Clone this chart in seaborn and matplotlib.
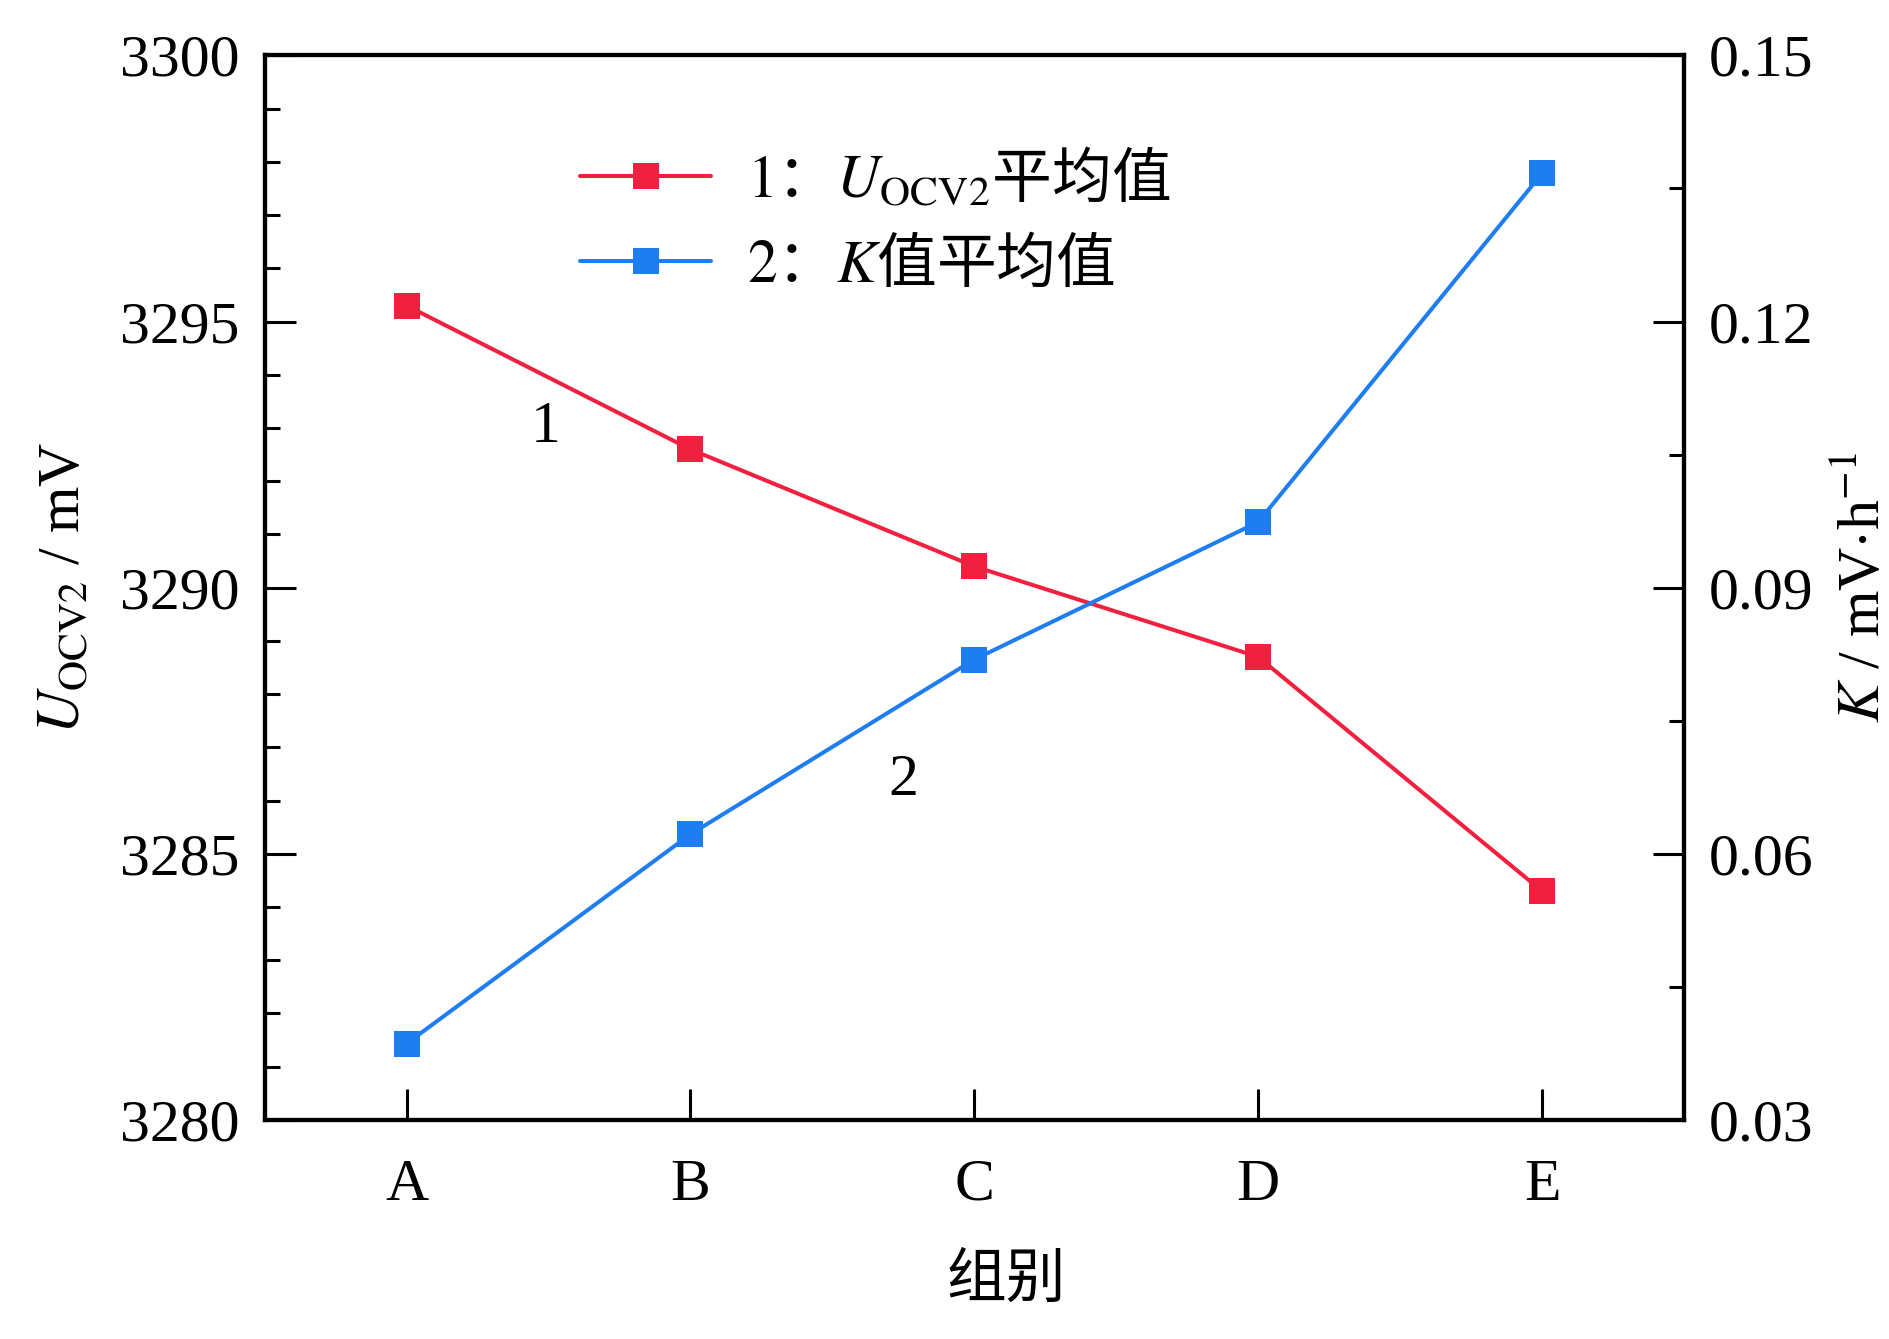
import matplotlib
matplotlib.use('Agg')
import matplotlib.pyplot as plt
import seaborn as sns
import pandas as pd
from matplotlib.ticker import MultipleLocator

# data
groups = ['A', 'B', 'C', 'D', 'E']
u_ocv2 = [3295.3, 3292.6, 3290.4, 3288.7, 3284.3]   # mV, left axis
k_val = [0.0386, 0.0622, 0.0819, 0.0974, 0.1367]    # mV/h, right axis

red = '#F2203F'
blue = '#1F7DF2'

sns.set_style('ticks')
plt.rcParams['font.family'] = ['Liberation Serif', 'Noto Sans CJK SC']
plt.rcParams['mathtext.fontset'] = 'stix'
plt.rcParams['axes.linewidth'] = 3
for key in ['text.color', 'axes.labelcolor', 'xtick.color', 'ytick.color',
            'axes.edgecolor']:
    plt.rcParams[key] = 'black'

df = pd.DataFrame({'group': groups, 'u': u_ocv2, 'k': k_val})

fig = plt.figure(figsize=(18.9, 13.39), dpi=100)
ax = fig.add_axes([0.140, 0.1636, 0.751, 0.795])
ax2 = ax.twinx()

sns.lineplot(data=df, x='group', y='u', ax=ax, color=red, linewidth=2.9,
             marker='s', markersize=19, markeredgewidth=0, label='1')
sns.lineplot(data=df, x='group', y='k', ax=ax2, color=blue, linewidth=2.9,
             marker='s', markersize=19, markeredgewidth=0, label='2')
ax.get_legend().remove() if ax.get_legend() else None
ax2.get_legend().remove() if ax2.get_legend() else None

fs = 43
ax.set_xlim(-0.5, 4.5)
ax.set_ylim(3280, 3300)
ax.yaxis.set_major_locator(MultipleLocator(5))
ax.yaxis.set_minor_locator(MultipleLocator(1))
ax2.set_ylim(0.03, 0.15)
ax2.yaxis.set_minor_locator(MultipleLocator(0.015))
ax2.set_yticks([0.03, 0.06, 0.09, 0.12, 0.15])
ax2.set_yticklabels(['0.03', '0.06', '0.09', '0.12', '0.15'])

for a in (ax, ax2):
    a.tick_params(which='major', direction='in', length=22, width=2.2,
                  labelsize=fs, pad=18, color='black')
    a.tick_params(which='minor', direction='in', length=11, width=2.2)
    for s in a.spines.values():
        s.set_linewidth(3)
        s.set_color('black')
ax.tick_params(axis='x', top=False, pad=28)
ax.tick_params(axis='y', right=False, which='both')
ax2.tick_params(axis='y', left=False, which='both')

ax.set_xlabel('组别', fontsize=fs, family='Noto Sans CJK SC')
ax.xaxis.set_label_coords(0.5225, -0.122)
ax.set_ylabel(r'$U_{\mathrm{OCV2}}$ / mV', fontsize=fs, labelpad=20)
ax2.set_ylabel(r'$K$ / mV$\cdot$h$^{-1}$', fontsize=fs, labelpad=16,
               rotation=90)

ax.text(0.49, 3293.0, '1', fontsize=fs, ha='center', va='center')
ax.text(1.75, 3286.36, '2', fontsize=fs, ha='center', va='center')

h1, _ = ax.get_legend_handles_labels()
h2, _ = ax2.get_legend_handles_labels()
labels = [r'$\mathrm{1}$：$U_{\mathrm{OCV2}}$平均值', r'$\mathrm{2}$：$K$值平均值']
fig.legend(h1 + h2, labels, loc='upper left', bbox_to_anchor=(0.291, 0.912),
           frameon=False, prop={'family': 'Noto Sans CJK SC', 'size': fs},
           handlelength=2.2, handletextpad=0.6, labelspacing=0.4,
           borderpad=0)

fig.savefig('out.png', dpi=100)
